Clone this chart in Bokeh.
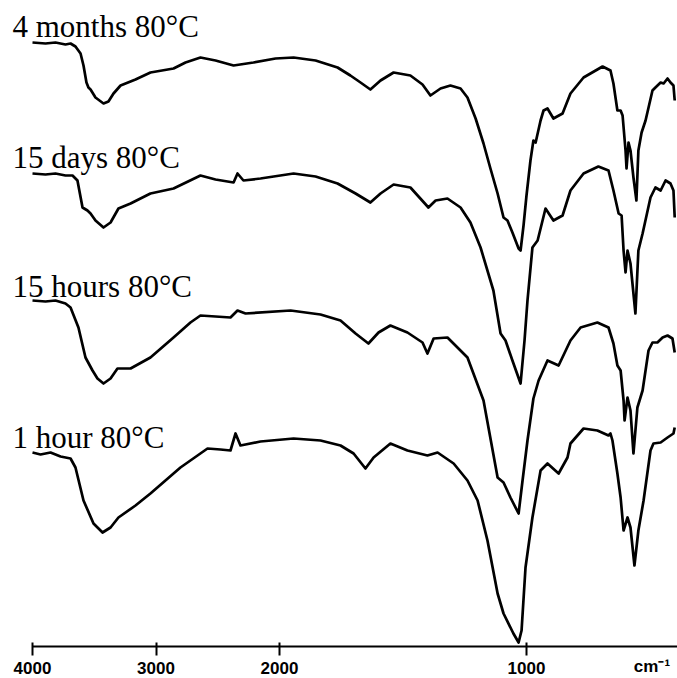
from bokeh.plotting import figure
from bokeh.models import Range1d, FixedTicker, Label
from bokeh.embed import file_html
from bokeh.resources import INLINE

# ---- data (wavenumber cm-1, transmittance in arbitrary units) ----
wn_4months = [4000, 3895, 3814, 3733, 3692, 3652, 3611, 3587, 3563, 3547, 3530, 3490, 3425, 3385, 3344, 3287, 3166, 3045,
              2858, 2761, 2640, 2518, 2372, 2211, 2032, 1943, 1854, 1765, 1713, 1672, 1632, 1591, 1538, 1470, 1421, 1389,
              1348, 1308, 1267, 1239, 1206, 1174, 1146, 1117, 1093, 1077, 1057, 1032, 1024, 1012, 1000, 984, 972, 963,
              943, 931, 915, 891, 854, 822, 769, 692, 660, 648, 632, 619, 611, 599, 595, 587, 579, 567, 555, 547, 534,
              518, 490, 478, 457, 445, 429, 417, 405, 400]
t_4months = [604, 603, 604, 602, 603, 600, 593, 581, 564, 559, 557, 549, 543, 545, 553, 561, 567, 574,
             578, 584, 589, 586, 581, 584, 588, 589, 586, 579, 571, 564, 557, 566, 574, 571, 562, 551,
             558, 561, 558, 549, 528, 503, 478, 453, 429, 426, 414, 398, 396, 421, 451, 486, 506, 504,
             526, 536, 538, 528, 533, 553, 569, 580, 576, 563, 536, 536, 531, 496, 478, 504, 496, 469, 446, 496, 514,
             526, 556, 559, 564, 563, 568, 564, 561, 546]

wn_15days = [4000, 3895, 3814, 3733, 3676, 3636, 3595, 3555, 3530, 3490, 3425, 3368, 3304, 3206, 3045, 2858, 2640, 2518,
             2372, 2340, 2292, 2154, 1943, 1854, 1765, 1692, 1632, 1591, 1538, 1470, 1397, 1368, 1320, 1267, 1227, 1186,
             1134, 1105, 1085, 1057, 1024, 1008, 996, 976, 955, 923, 891, 854, 822, 769, 709, 668, 648, 627, 615, 607,
             599, 591, 579, 559, 547, 530, 498, 478, 457, 437, 417, 405, 400]
t_15days = [473, 472, 473, 471, 471, 466, 439, 436, 433, 426, 419, 424, 438, 443, 453, 458, 471, 467,
            464, 473, 466, 468, 473, 470, 463, 453, 444, 453, 462, 459, 439, 446, 448, 439, 424, 399,
            356, 313, 306, 286, 263, 306, 346, 399, 406, 438, 426, 431, 456, 473, 480, 476, 456, 433, 431, 396,
            374, 396, 383, 333, 396, 413, 449, 459, 456, 466, 463, 456, 429]

wn_15hours = [4000, 3895, 3814, 3733, 3692, 3628, 3571, 3514, 3474, 3425, 3368, 3312, 3206, 3045, 2858, 2721, 2640, 2518,
              2397, 2340, 2275, 1955, 1834, 1753, 1692, 1640, 1599, 1551, 1482, 1421, 1401, 1376, 1320, 1239, 1174, 1117,
              1093, 1065, 1032, 1016, 996, 972, 951, 915, 870, 822, 781, 713, 668, 648, 632, 619, 607, 603, 591, 579,
              567, 551, 530, 506, 490, 470, 449, 429, 409, 400]
t_15hours = [346, 345, 346, 343, 339, 319, 289, 276, 268, 263, 268, 278, 278, 289, 309, 324, 331, 330,
             329, 336, 333, 336, 332, 326, 313, 303, 314, 321, 314, 304, 293, 308, 309, 289, 246, 169,
             164, 149, 133, 166, 206, 248, 266, 286, 281, 306, 319, 324, 319, 303, 281, 276, 246, 226, 249, 236,
             193, 239, 256, 296, 304, 304, 309, 311, 308, 294]

wn_1hour = [4000, 3935, 3854, 3773, 3692, 3652, 3587, 3506, 3433, 3368, 3304, 3166, 3045, 2802, 2583, 2478, 2397, 2356,
            2316, 2154, 1943, 1834, 1753, 1700, 1652, 1619, 1551, 1482, 1401, 1360, 1295, 1239, 1198, 1158, 1117, 1093,
            1053, 1032, 1020, 1004, 976, 943, 915, 870, 834, 822, 769, 713, 668, 660, 652, 632, 619, 607, 591, 579,
            563, 547, 526, 498, 486, 457, 429, 405, 400]
t_1hour = [194, 192, 194, 190, 188, 179, 146, 123, 114, 119, 129, 141, 153, 179, 198, 197, 196, 213,
           201, 205, 208, 206, 201, 193, 178, 189, 203, 196, 191, 194, 183, 166, 146, 106, 53, 33,
           13, 4, 16, 79, 129, 176, 183, 173, 189, 203, 218, 216, 211, 213, 206, 173, 149, 116, 129, 119,
           81, 116, 146, 196, 203, 204, 209, 213, 219]

labels = ["4 months 80°C", "15 days 80°C", "15 hours 80°C", "1 hour 80°C"]
label_y = [609, 478, 349, 198]

tick_wn = [4000, 3000, 2000, 1000]
tick_text = ["4000", "3000", "2000", "1000"]
unit_text = "cm\u207b\u00b9"
unit_wn = 492


# instrument abscissa: 4000-2000 cm-1 drawn at half the scale of 2000-400 cm-1
def to_u(w):
    return (4000 - w) / 2 if w >= 2000 else 1000 + (2000 - w)


PX_PER_U = 0.247
X0 = 32  # screen position of 4000 cm-1
x_start = -X0 / PX_PER_U
x_end = (677 - X0) / PX_PER_U

p = figure(width=677, height=678, output_backend="svg", toolbar_location=None,
           x_range=Range1d(x_start, x_end), y_range=Range1d(-32, 646),
           min_border_left=0, min_border_right=0, min_border_top=0, min_border_bottom=0,
           y_axis_location=None)
p.outline_line_color = None
p.xgrid.visible = False
p.ygrid.visible = False
p.background_fill_color = "white"
p.border_fill_color = "white"

series = [(wn_4months, t_4months), (wn_15days, t_15days), (wn_15hours, t_15hours), (wn_1hour, t_1hour)]
for wn, t in series:
    p.line([to_u(w) for w in wn], t, line_color="black", line_width=2.7, line_join="round")

for txt, y in zip(labels, label_y):
    p.add_layout(Label(x=0, y=y, x_offset=-20, y_offset=11, text=txt, text_font="Liberation Serif",
                       text_font_size="31px", text_color="black", text_baseline="alphabetic"))

ax = p.xaxis[0]
ax.fixed_location = 0
ax.bounds = (0, x_end)
ax.ticker = FixedTicker(ticks=[to_u(w) for w in tick_wn])
ax.major_label_overrides = {to_u(w): s for w, s in zip(tick_wn, tick_text)}
ax.axis_line_width = 2
ax.axis_line_color = "black"
ax.major_tick_line_width = 2
ax.major_tick_out = 9
ax.major_tick_in = 4
ax.minor_tick_line_color = None
ax.major_label_standoff = 6
ax.major_label_text_font = "Liberation Sans"
ax.major_label_text_font_style = "bold"
ax.major_label_text_font_size = "17px"
ax.major_label_text_color = "black"

p.add_layout(Label(x=to_u(unit_wn), y=-20, text=unit_text, text_font="Liberation Sans", text_font_style="bold",
                   text_font_size="17px", text_align="center", text_baseline="middle", text_color="black"))

open("out.html", "w").write(file_html(p, INLINE))
